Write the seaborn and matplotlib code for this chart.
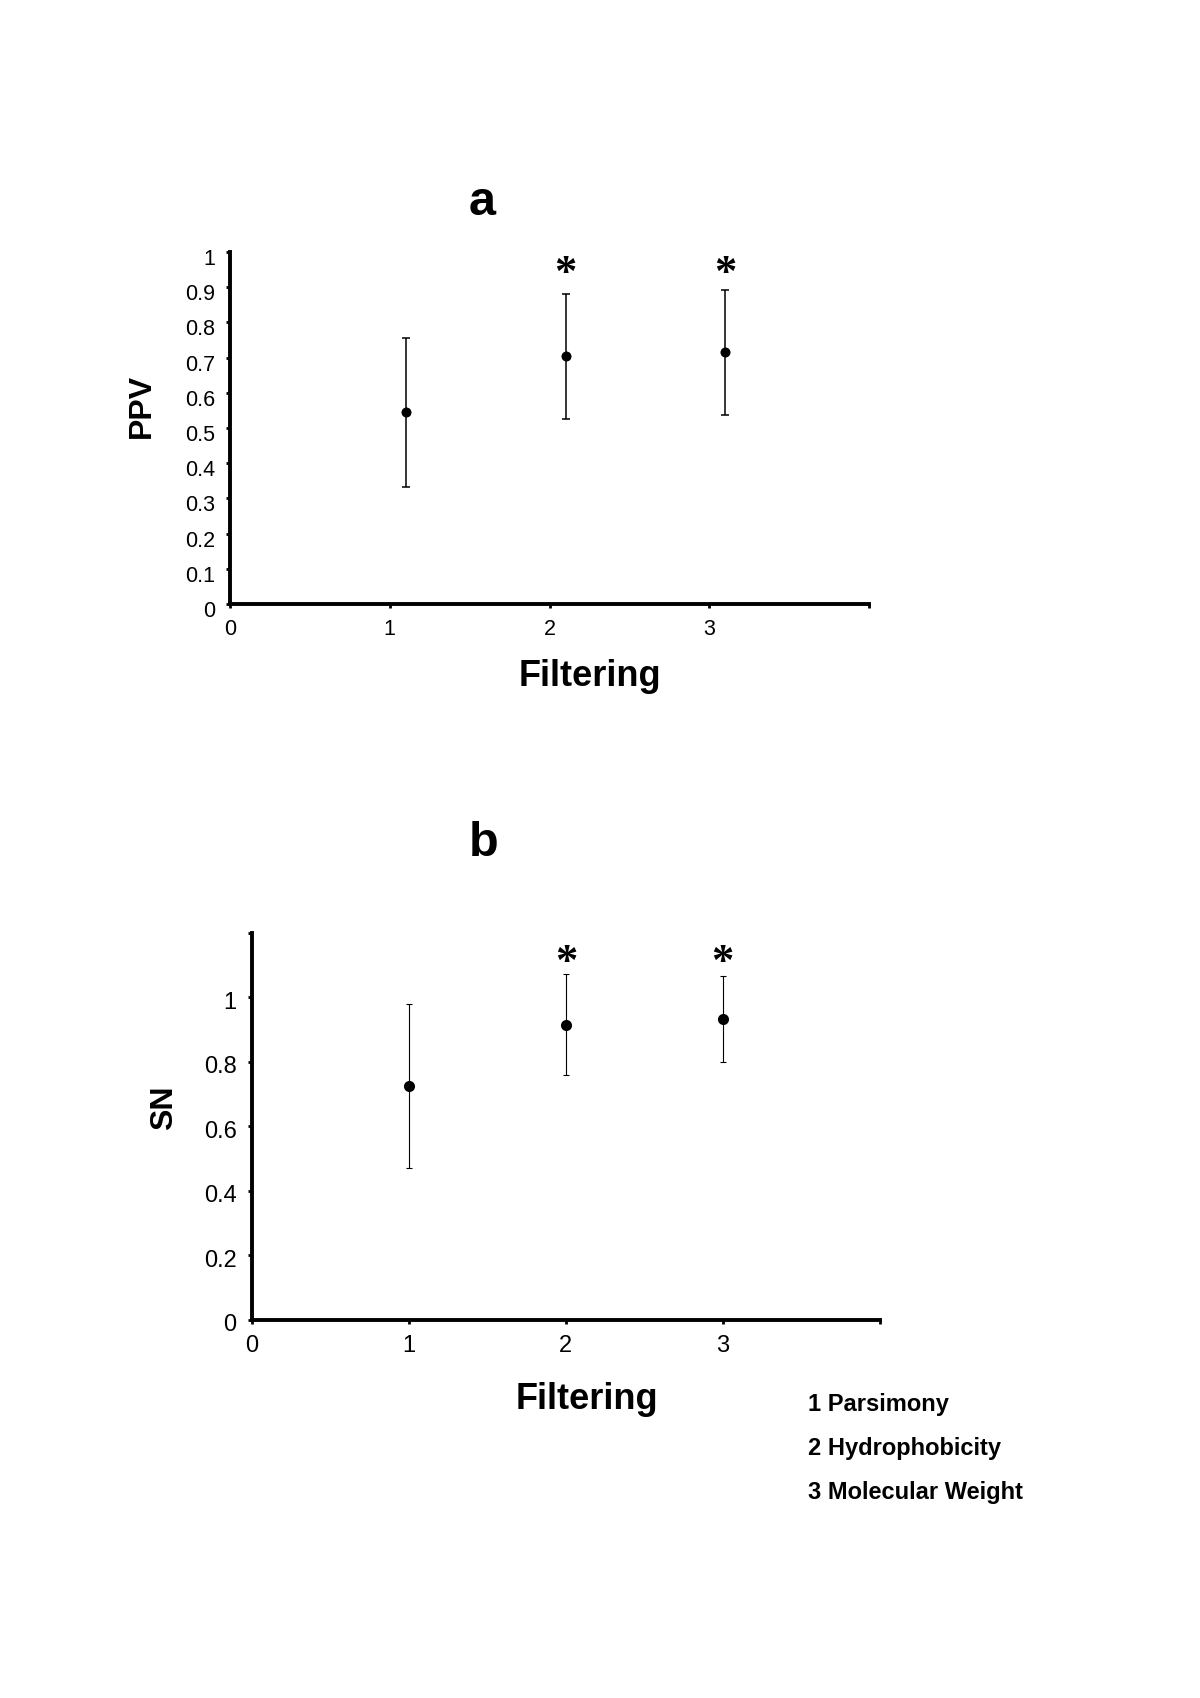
"""
PPV / SN by filtering method - two stacked panels with error bars
"""

import numpy as np
import pandas as pd
import matplotlib
matplotlib.use('Agg')
import matplotlib.pyplot as plt
import matplotlib.transforms as mtransforms
import seaborn as sns

# ── DATA ────────────────────────────────────────────────────
ppv_x   = [1.1, 2.1, 3.1]
ppv_y   = [0.544, 0.704, 0.715]
ppv_err = [0.212, 0.178, 0.178]
ppv_sig_x = [2.1, 3.1]
ppv_sig_y = [0.966, 0.966]

sn_x   = [1, 2, 3]
sn_y   = [0.725, 0.916, 0.933]
sn_err = [0.256, 0.158, 0.133]
sn_sig_x = [2, 3]
sn_sig_y = [1.138, 1.138]

x_ticks      = [0, 1, 2, 3, 4]
x_ticklabels = ['0', '1', '2', '3', '']
ppv_ticks    = [0, 0.1, 0.2, 0.3, 0.4, 0.5, 0.6, 0.7, 0.8, 0.9, 1]
ppv_ticklabels = ['0', '0.1', '0.2', '0.3', '0.4', '0.5', '0.6', '0.7', '0.8', '0.9', '1']
sn_ticks     = [0, 0.2, 0.4, 0.6, 0.8, 1.0, 1.2]
sn_ticklabels = ['0', '0.2', '0.4', '0.6', '0.8', '1', '']

legend_lines = ['1 Parsimony', '2 Hydrophobicity', '3 Molecular Weight']
# ────────────────────────────────────────────────────────────

sns.set_style('ticks')
plt.rcParams['font.family'] = ['Liberation Sans', 'DejaVu Sans']
plt.rcParams.update({'text.color': 'black', 'axes.labelcolor': 'black',
                     'xtick.color': 'black', 'ytick.color': 'black',
                     'axes.edgecolor': 'black'})

fig = plt.figure(figsize=(12, 16.98), dpi=100)
fig.patch.set_facecolor('white')

ax_a = fig.add_axes([0.1917, 0.6443, 0.5325, 0.2073])
ax_b = fig.add_axes([0.21, 0.2229, 0.523, 0.2276])


def draw_panel(ax, x, y, err, sig_x, sig_y, yticks, ylabels, ylim,
               ylabel, ylab_xy, xlab_xy, tick_fs, dot_s, elw, cap, label_drop):
    df = pd.DataFrame({'x': x, 'y': y, 'err': err})
    ax.errorbar(df['x'], df['y'], yerr=df['err'], fmt='none', ecolor='black',
                elinewidth=elw, capsize=cap, capthick=elw, zorder=2)
    sns.scatterplot(data=df, x='x', y='y', ax=ax, color='black', s=dot_s,
                    edgecolor='black', linewidth=0, zorder=3, legend=False)
    for sx, sy in zip(sig_x, sig_y):
        ax.annotate('*', xy=(sx, sy), xytext=(0, -7.5), textcoords='offset points',
                    ha='center', va='center', fontsize=32, fontweight='bold',
                    color='black', fontfamily=['Liberation Serif', 'DejaVu Serif'])

    ax.set_xlim(0, 4)
    ax.set_ylim(*ylim)
    ax.set_xticks(x_ticks)
    ax.set_xticklabels(x_ticklabels, fontsize=tick_fs)
    ax.set_yticks(yticks)
    ax.set_yticklabels(ylabels, fontsize=tick_fs)
    ax.tick_params(axis='both', direction='out', length=3, width=2,
                   color='black', labelcolor='black', pad=8)

    # Excel style: y tick labels sit a little below their ticks
    drop = mtransforms.ScaledTranslation(0, -label_drop / 100, fig.dpi_scale_trans)
    for lab in ax.get_yticklabels():
        lab.set_transform(lab.get_transform() + drop)

    ax.spines[['top', 'right']].set_visible(False)
    for s in ['left', 'bottom']:
        ax.spines[s].set_linewidth(2.8)
        ax.spines[s].set_color('black')
    ax.set_facecolor('white')

    ax.set_ylabel(ylabel, fontsize=23, fontweight='bold', color='black')
    ax.yaxis.set_label_coords(*ylab_xy)
    ax.yaxis.label.set_va('center')
    ax.set_xlabel('Filtering', fontsize=26, fontweight='bold', color='black')
    ax.xaxis.set_label_coords(*xlab_xy)
    ax.xaxis.label.set_va('center')


draw_panel(ax_a, ppv_x, ppv_y, ppv_err, ppv_sig_x, ppv_sig_y,
           ppv_ticks, ppv_ticklabels, (0, 1), 'PPV',
           (-0.1385, 0.5625), (0.564, -0.206), 15.5, 52, 1.1, 3, 5)
draw_panel(ax_b, sn_x, sn_y, sn_err, sn_sig_x, sn_sig_y,
           sn_ticks, sn_ticklabels, (0, 1.2), 'SN',
           (-0.1394, 0.547), (0.533, -0.206), 17, 64, 0.8, 2.3, 3)

# panel letters
fig.text(0.4017, 0.8805, 'a', fontsize=35, fontweight='bold', ha='center', va='center')
fig.text(0.4033, 0.5030, 'b', fontsize=35, fontweight='bold', ha='center', va='center')

# key for the filtering codes
for yy, txt in zip([0.1726, 0.1472, 0.1213], legend_lines):
    fig.text(0.6733, yy, txt, fontsize=17, fontweight='bold', ha='left', va='center')

fig.savefig('out.png', dpi=100, facecolor='white')
plt.close()
